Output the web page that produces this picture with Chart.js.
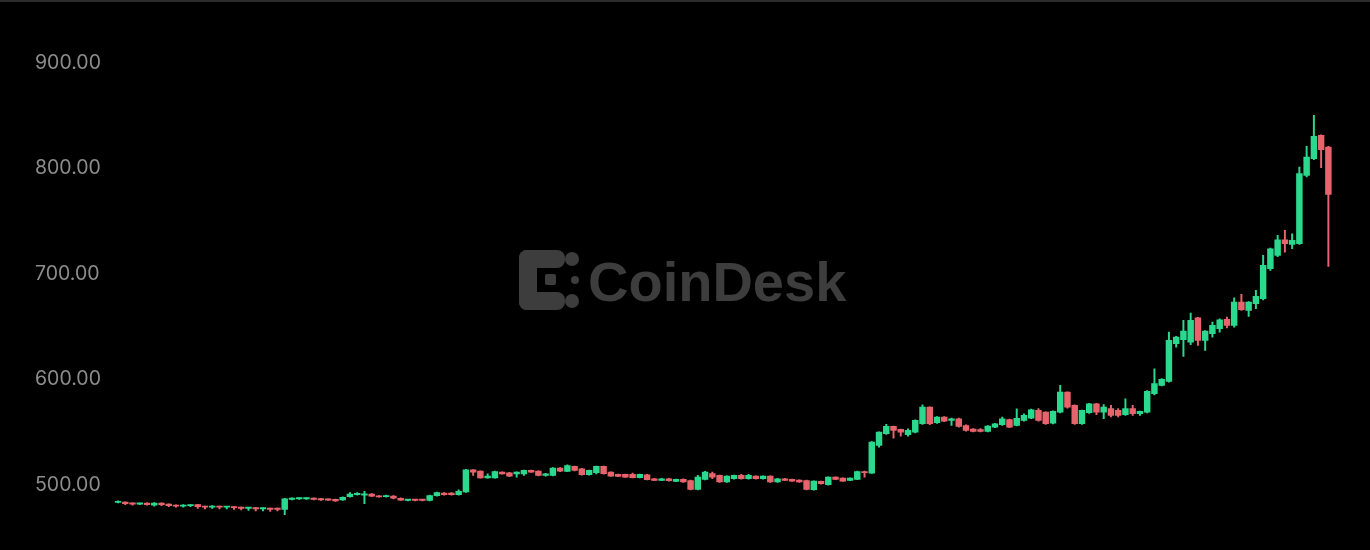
<!DOCTYPE html>
<html>
<head>
<meta charset="utf-8">
<script src="https://cdn.jsdelivr.net/npm/chart.js@4"></script>
<style>
  html, body { margin: 0; padding: 0; background: #000; }
  #wrap { position: relative; width: 1370px; height: 550px; overflow: hidden; background: #000; }
  #topline { position: absolute; left: 0; top: 0; width: 1370px; height: 2px; background: #2c2c2c; z-index: 3; }
  #mark { position: absolute; left: 519px; top: 250px; z-index: 0; color: #3d3d3d; }
  #mark svg { position: absolute; left: 0; top: 0; }
  #mark span { position: absolute; left: 69px; top: 4px; font: 700 56px "Liberation Sans", Arial, sans-serif; letter-spacing: 0; line-height: 1; white-space: nowrap; }
  #chart { position: absolute; left: 0; top: 0; z-index: 1; }
</style>
</head>
<body>
<div id="wrap">
  <div id="topline"></div>
  <div id="mark">
    <svg width="60" height="60" viewBox="0 0 60 60" fill="#3d3d3d">
      <rect x="0" y="0" width="46" height="18" rx="8"/>
      <rect x="0" y="0" width="18" height="60" rx="8"/>
      <rect x="0" y="42" width="46" height="18" rx="8"/>
      <circle cx="53" cy="9" r="7"/>
      <circle cx="53" cy="51" r="7"/>
      <rect x="26" y="24" width="11" height="11" rx="2"/>
      <circle cx="56" cy="30" r="4"/>
    </svg>
    <span>CoinDesk</span>
  </div>
  <canvas id="chart" width="1370" height="550"></canvas>
</div>
<script>
// candle values, oldest first
const open = [
  483.5, 484, 483, 482, 483, 481, 483, 482, 481, 480, 480.5, 481.5, 480, 479, 480, 479, 479.5, 479, 478, 478.5, 477.5, 478, 478, 477,
  486.5, 487, 487, 487.5, 487, 486.5, 486.5, 486, 489, 491, 490.5, 491.5, 489.5, 489, 489.5, 487.5, 485.5, 486, 486, 485.5, 490, 492.5, 492.5, 491, 493.5,
  514.5, 513.3, 506.9, 506.9, 512.3, 511.7, 510.7, 510.7, 513.9, 513.3, 509.2, 509.2, 516.1, 513, 517.7, 515.5, 509.8, 511.7, 517.7, 512.3,
  510.1, 510.1, 510.1, 507, 509.8, 506, 504.4, 506, 503.5, 505.4, 504.4, 495.9, 505.4, 510.8, 509.2, 502.9, 506, 509.2, 506, 508.5,
  506, 508.5, 502.9, 506, 505.4, 504.8, 504.4, 495.6, 503.5, 500.3, 507.6, 506.6, 504.4, 505.4, 512.9,
  511.4, 537.6, 548.7, 555.6, 552.8, 547.7, 550.2, 558.1, 573.9, 559.1, 564.4, 561.3, 562.9, 556.5, 553, 552.5, 550.9, 555, 557.2, 562.2,
  556.5, 561.3, 563.5, 570.8, 569.2, 558.8, 569.2, 588.2, 575.5, 558.1, 568.6, 577.1, 569.2, 572.4, 570.8, 566.7, 572.4, 567.6, 569.2, 586.6,
  594.5, 598.3, 634, 637.8, 635.5, 658.6, 637.1, 643.4, 648.2, 657, 651.3, 673.4, 665.5, 672, 676.6, 705, 717.7, 732.5, 728.1, 728.7,
  793.5, 809.3, 831.4, 820.4
];
const high = [
  485, 484.2, 483.2, 483, 483.2, 483.5, 483.2, 482.2, 481.2, 481.5, 481.5, 481.7, 480.2, 480.5, 480.2, 480, 479.7, 479.2, 479, 478.7, 478.5, 478.2, 478.2, 487.5,
  488, 488, 488, 488, 487.5, 487, 486.7, 489, 493, 493, 494, 492, 490, 490.5, 490, 488, 486.5, 486.2, 486.2, 490.5, 493.5, 493, 493, 495.5, 515,
  514.8, 513.6, 510.7, 513.2, 512.6, 512, 512.6, 514.2, 514.2, 513.6, 511.2, 516.5, 516.5, 519.3, 518, 515.8, 514.2, 518, 518, 512.6,
  510.4, 510.4, 511.5, 510.4, 510.1, 506.3, 506.3, 506.3, 505.7, 506, 504.7, 509.2, 513, 512.3, 509.5, 508.8, 509.5, 510.1, 510.1, 508.8,
  508.8, 508.8, 506.3, 506.3, 505.7, 505.1, 504.7, 504.1, 503.8, 507.9, 507.9, 506.9, 506.9, 513.2, 513.2,
  541.2, 550.5, 557.5, 556, 553, 553.4, 561.9, 576.1, 574.2, 565, 565, 563.5, 563.5, 557, 553.5, 553.5, 556.5, 558.5, 564.4, 562.5,
  572.3, 567.6, 572, 572.4, 569.5, 570.5, 594.5, 588.5, 576, 571, 577.5, 577.5, 576.2, 575.5, 572.4, 581.8, 575.5, 570.2, 589.5, 610.3,
  601, 645, 641, 656.1, 663, 659, 646.5, 654.5, 657.5, 659.2, 677.5, 680.7, 674, 684.5, 717.7, 724.5, 736.6, 741.4, 738.2, 801.4,
  821, 850.4, 832, 821
];
const low = [
  483, 481.5, 481, 481.5, 481, 480, 480.5, 479.5, 479, 479, 479.5, 478, 477.5, 478, 477.5, 477.5, 477, 476.5, 476, 475.5, 475.5, 475, 475.5, 472,
  486, 486.5, 486.5, 486, 485.5, 485.5, 484.5, 485.5, 488.5, 490.5, 482.5, 489, 488.5, 488.5, 487, 485.5, 485, 485, 485, 485, 489.5, 490.5, 490.5, 490.5, 493,
  509.2, 506.5, 506.5, 506.5, 510.3, 508, 507.6, 509.2, 512, 508.8, 508.5, 508.8, 512.8, 512.7, 513.5, 509.4, 509.4, 510.7, 510.4, 508.2,
  507.9, 507.3, 506.7, 506.7, 504.8, 504.1, 504.1, 503.8, 503.2, 502.6, 495.5, 495.5, 505, 506, 502.6, 502.6, 505.7, 505.7, 505.7, 505.7,
  505.7, 502.6, 502.6, 504.1, 503.5, 502.6, 495.5, 495.3, 501, 500, 505.1, 503.5, 504.1, 505.1, 507.6,
  511, 536, 548, 544.5, 546.4, 546.4, 549.5, 557.5, 557.2, 558.5, 560, 556.5, 555, 551, 550.3, 550.5, 550.5, 554.5, 556.5, 554.5,
  556, 560.5, 563, 560.5, 557.5, 558, 568.5, 573, 557.5, 557.5, 568, 566.7, 562.9, 564.5, 564.5, 566, 566, 566, 568.5, 585.5,
  594, 597.5, 630.8, 622, 633, 632.4, 627.6, 640.3, 645, 649, 649.7, 665.5, 659.8, 667.1, 675.5, 703.5, 716.5, 720.8, 724, 728,
  792, 808.5, 800.8, 707.3
];
const close = [
  484.5, 482.5, 482, 482.8, 481.5, 483, 481.5, 480.5, 480, 481, 481.3, 479.5, 479, 480, 479, 479.8, 478.5, 478, 478.8, 477.5, 478.3, 477, 477, 487,
  487.5, 487.8, 487.6, 486.5, 486, 485.8, 485, 488.5, 491.5, 491.8, 491.5, 489.5, 488.8, 489.8, 487.5, 485.8, 486, 485.5, 485.5, 490, 493, 491, 491, 494, 514.5,
  512.3, 506.9, 508.5, 512.9, 510.7, 508.5, 512.3, 513.9, 512.3, 509.2, 510.7, 516.1, 513.2, 518.6, 513.9, 509.8, 513.9, 517.7, 510.8, 508.5,
  508.2, 507.6, 507, 510.1, 505.1, 504.4, 506, 504.1, 505.4, 502.9, 495.9, 507.6, 512.3, 507.6, 502.9, 508.5, 509.2, 506, 509.2, 506,
  508.5, 502.9, 506, 504.4, 503.8, 502.9, 495.9, 503.8, 501.3, 507.6, 505.4, 503.8, 506.6, 512.9, 511.7,
  540.8, 550.2, 555.6, 551.8, 550.2, 551.8, 561.3, 573.9, 558.1, 564.4, 560.6, 562.9, 555.6, 551.8, 550.9, 550.9, 555.9, 558.1, 562.9, 555,
  563.2, 566, 571.4, 561.3, 558.1, 569.8, 588.2, 573.9, 558.1, 570.8, 577.1, 569.2, 573.9, 566, 566, 572.4, 567.6, 569.8, 588.8, 596.1,
  600.2, 637.2, 640.3, 645.9, 656.1, 637.1, 645.9, 651.3, 656.7, 651.3, 673.4, 666.2, 673.4, 678.8, 708.2, 724, 732.5, 728.7, 731.9, 795.1,
  810.9, 830.5, 817.9, 775.5
];
const yTicks = [500, 600, 700, 800, 900];

const upColor = '#2bd98e';
const downColor = '#e8646d';

const labels = open.map((v, i) => String(i + 1));
const candleColors = open.map((o, i) => close[i] >= o ? upColor : downColor);
const wicks = low.map((l, i) => [l, high[i]]);
const bodies = open.map((o, i) => [o, close[i]]);

const ctx = document.getElementById('chart').getContext('2d');
const chart = new Chart(ctx, {
    type: 'bar',
    data: {
        labels: labels,
        datasets: [
            {
                label: 'wick',
                data: wicks,
                backgroundColor: candleColors,
                barThickness: 1.3,
                grouped: false,
                order: 2
            },
            {
                label: 'body',
                data: bodies,
                backgroundColor: candleColors,
                barThickness: 5.8,
                minBarLength: 1.2,
                grouped: false,
                order: 1
            }
        ]
    },
    options: {
        responsive: false,
        animation: false,
        layout: { padding: { left: 35, right: 38, top: 0, bottom: 0 } },
        plugins: {
            legend: { display: false },
            tooltip: { enabled: false }
        },
        scales: {
            x: {
                offset: true,
                ticks: { display: false, padding: 0 },
                border: { display: false },
                grid: { offset: false, drawTicks: false, color: '#101010', lineWidth: 1 },
                // a few faint separators, as in the picture
                afterBuildTicks: function(scale) {
                    scale.ticks = [17.5, 40.5, 113.5].map(v => ({ value: v }));
                },
                afterFit: function(scale) {
                    scale.height = 0;
                    scale.paddingTop = 0;
                    scale.paddingBottom = 0;
                }
            },
            y: {
                min: 438.5,
                max: 959.7,
                grid: { display: false },
                border: { display: false },
                ticks: {
                    color: '#8c8c8c',
                    font: { family: 'Inter, "Liberation Sans", sans-serif', size: 19.5 },
                    crossAlign: 'far',
                    callback: function(value) { return Number(value).toFixed(2); }
                },
                afterBuildTicks: function(scale) {
                    scale.ticks = yTicks.map(v => ({ value: v }));
                },
                afterFit: function(scale) {
                    scale.width = 79.4;
                    scale.paddingTop = 0;
                    scale.paddingBottom = 0;
                }
            }
        }
    }
});
</script>
</body>
</html>
